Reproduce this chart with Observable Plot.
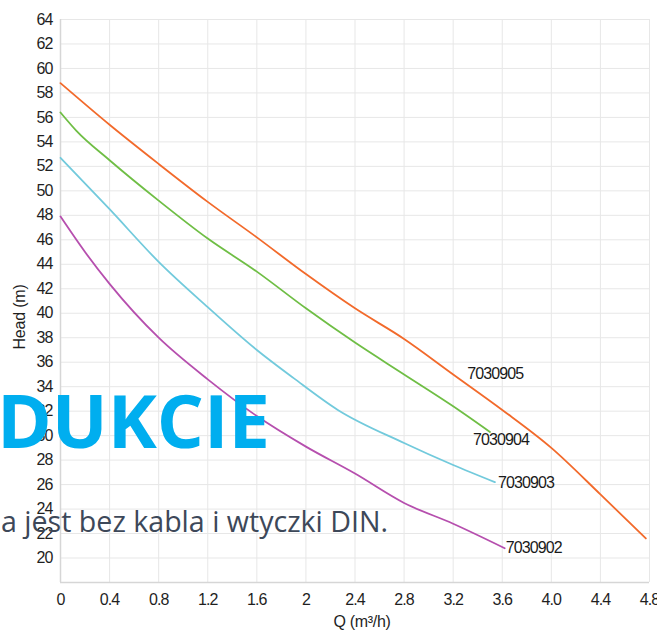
<!DOCTYPE html>
<html><head><meta charset="utf-8">
<script src="https://cdn.jsdelivr.net/npm/d3@7"></script>
<script src="https://cdn.jsdelivr.net/npm/@observablehq/plot@0.6"></script>
<style>
body{margin:0;background:#fff;}
#wrap{position:relative;width:657px;height:631px;overflow:hidden;}
</style></head><body><div id="wrap"></div>
<script>
const modelNames = ["7030905", "7030904", "7030903", "7030902"];
const q7030905 = [0, 0.4, 0.8, 1.2, 1.6, 2.0, 2.4, 2.8, 3.2, 3.6, 4.0, 4.4, 4.77];
const h7030905 = [58.8, 55.4, 52.2, 49.1, 46.2, 43.2, 40.4, 37.9, 35.0, 32.1, 29.0, 25.2, 21.6];
const q7030904 = [0, 0.13, 0.4, 0.8, 1.2, 1.6, 2.0, 2.4, 2.8, 3.2, 3.5];
const h7030904 = [56.4, 54.9, 52.5, 49.2, 46.1, 43.4, 40.4, 37.6, 35.0, 32.4, 30.3];
const q7030903 = [0, 0.4, 0.8, 1.2, 1.6, 1.9, 2.26, 2.8, 3.2, 3.54];
const h7030903 = [52.7, 48.5, 44.2, 40.5, 37.0, 34.7, 32.1, 29.4, 27.6, 26.2];
const q7030902 = [0, 0.2, 0.4, 0.8, 1.2, 1.6, 2.0, 2.4, 2.8, 3.2, 3.62];
const h7030902 = [47.9, 45.0, 42.4, 38.0, 34.6, 31.6, 29.1, 26.9, 24.5, 22.8, 20.8];
const xTicks = [0, 0.4, 0.8, 1.2, 1.6, 2, 2.4, 2.8, 3.2, 3.6, 4.0, 4.4, 4.8];
const xTickLabels = ["0", "0.4", "0.8", "1.2", "1.6", "2", "2.4", "2.8", "3.2", "3.6", "4.0", "4.4", "4.8"];
const yTicks = [20, 22, 24, 26, 28, 30, 32, 34, 36, 38, 40, 42, 44, 46, 48, 50, 52, 54, 56, 58, 60, 62, 64];
const xLabel = "Q (m³/h)";
const yLabel = "Head (m)";
const overlayLine1 = "DUKCIE";
const overlayLine2 = "a jest bez kabla i wtyczki DIN.";

const series = [
  {name: modelNames[0], q: q7030905, h: h7030905, at: 8, dx: 14, dy: -1},
  {name: modelNames[1], q: q7030904, h: h7030904, at: q7030904.length - 1, dx: -17, dy: 8},
  {name: modelNames[2], q: q7030903, h: h7030903, at: q7030903.length - 1, dx: 3, dy: 1},
  {name: modelNames[3], q: q7030902, h: h7030902, at: q7030902.length - 1, dx: 1, dy: 0}
];
const colors = ["#f26a2b", "#6fbe45", "#72cadc", "#b64fae"];
const rows = [];
series.forEach(s => s.q.forEach((q, i) => rows.push({model: s.name, q, h: s.h[i]})));

const font = '"Liberation Sans", Arial, sans-serif';

const labelMarks = series.map(s => Plot.text([{q: s.q[s.at], h: s.h[s.at], label: s.name}], {
  x: "q", y: "h", text: "label", textAnchor: "start", lineAnchor: "middle",
  dx: s.dx, dy: s.dy, fill: "#1a1a1a", fontSize: 16
}));

const chart = Plot.plot({
  width: 657, height: 631,
  marginTop: 19, marginBottom: 49, marginLeft: 60, marginRight: 8,
  style: {fontFamily: font, fontSize: "16px", letterSpacing: "-0.9px", color: "#1f1f1f", background: "#fff"},
  x: {domain: [0, 4.8], ticks: xTicks, tickSize: 0, tickPadding: 11, label: null,
      tickFormat: d => xTickLabels[xTicks.findIndex(v => Math.abs(v - d) < 1e-9)]},
  y: {domain: [18, 64], ticks: yTicks, tickSize: 0, tickPadding: 8, label: null},
  color: {domain: modelNames, range: colors},
  marks: [
    Plot.gridX(xTicks, {stroke: "#e7e7e7", strokeOpacity: 1}),
    Plot.gridY(yTicks, {stroke: "#e7e7e7", strokeOpacity: 1}),
    Plot.ruleX([0], {stroke: "#d6d6d6", strokeWidth: 1.5}),
    Plot.ruleY([18], {stroke: "#d6d6d6", strokeWidth: 1.5}),
    Plot.line(rows, {x: "q", y: "h", z: "model", stroke: "model", strokeWidth: 1.8, curve: "monotone-x"}),
    ...labelMarks
  ]
});
document.getElementById("wrap").appendChild(chart);

const svg = d3.select(chart);
svg.append("text").attr("x", 362).attr("y", 627).attr("text-anchor", "middle")
  .attr("font-family", font).style("letter-spacing", "-0.3px").attr("font-size", 16)
  .attr("fill", "#1f1f1f").text(xLabel);
svg.append("text").attr("transform", "translate(25,317) rotate(-90)").attr("text-anchor", "middle")
  .attr("font-family", font).style("letter-spacing", "-0.2px").attr("font-size", 16)
  .attr("fill", "#1f1f1f").text(yLabel);
svg.append("text").attr("x", -3).attr("y", 448).attr("text-anchor", "start")
  .attr("font-family", '"Open Sans", sans-serif').style("letter-spacing", "0px")
  .attr("font-weight", 700).attr("font-size", 74).attr("fill", "#00aeef").text(overlayLine1);
svg.append("text").attr("x", 1).attr("y", 532).attr("text-anchor", "start")
  .attr("font-family", '"Open Sans", sans-serif').style("letter-spacing", "0px")
  .attr("font-size", 28.6).attr("fill", "#3d4859").text(overlayLine2);
</script></body></html>
